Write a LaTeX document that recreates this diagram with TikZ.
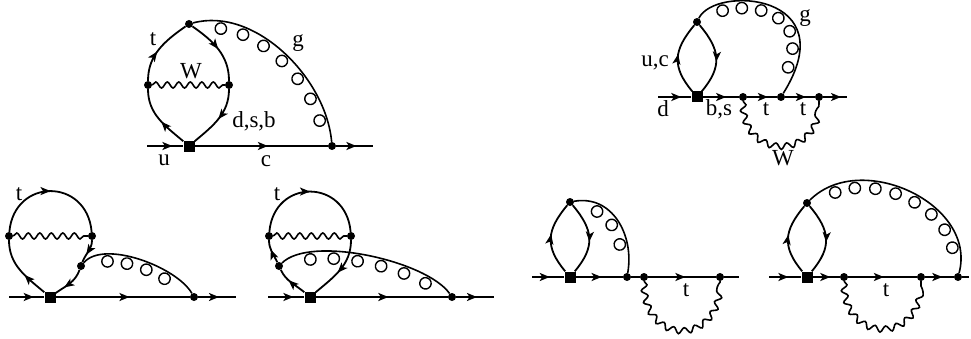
\documentclass[tikz,border=0pt]{standalone}
\usepackage{fontspec}
\setmainfont{Liberation Serif}
\usetikzlibrary{shapes,arrows.meta,decorations.markings,decorations.pathmorphing}

\begin{document}
\begin{tikzpicture}[
  x=1pt, y=1pt,
  vtx/.style={circle, fill=black, inner sep=0pt, minimum size=8pt},
  sqv/.style={rectangle, fill=black, inner sep=0pt, minimum size=11pt},
  lbl/.style={inner sep=0pt, font=\fontsize{23}{24}\selectfont},
  bare/.style={line width=2.1pt},
  fline/.style={line width=2.1pt, postaction={decorate}, decoration={markings, mark=at position #1 with {\arrow{Stealth[length=10pt,width=8pt,inset=2.5pt]}}}},
  fline/.default=0.6,
  floop/.style={fline=#1, line width=1.8pt},
  wline/.style={line width=1.6pt, decorate, decoration={snake, segment length=11.5pt, amplitude=3pt}},
  gluon/.style n args={3}{line width=1.6pt, postaction={decorate}, decoration={markings, mark=between positions #1 and #2 step #3 with {\draw[line width=1.4pt] (0,-7.5pt) circle (5.7pt);}}},
]
  \useasboundingbox (0,0) rectangle (971,338);

  \node[sqv] (sqA) at (189,192) {};
  \node[vtx] (topA) at (189,314) {};
  \node[vtx] (leftA) at (148,253) {};
  \node[vtx] (rightA) at (229,253) {};
  \node[vtx] (endA) at (332,192) {};
  \coordinate (inA) at (147,192);
  \coordinate (outA) at (373,192);
  \draw[fline=0.7] (inA) -- (sqA);
  \draw[fline=0.55] (sqA) -- (endA);
  \draw[fline=0.55] (endA) -- (outA);
  \draw[floop=0.45] (sqA) to[out=140,in=-90] (leftA);
  \draw[floop=0.45] (leftA) to[out=90,in=215] (topA);
  \draw[floop=0.5] (topA) to[out=-35,in=90] (rightA);
  \draw[floop=0.5] (rightA) to[out=-90,in=40] (sqA);
  \draw[wline] (leftA) -- (rightA);
  \draw[gluon={29pt}{-8pt}{25pt}] (topA) to[out=15,in=95,looseness=0.9] (endA);
  \node[lbl] (tA) at (153,299) {t};
  \node[lbl] (wA) at (191,267) {W};
  \node[lbl] (gA) at (298,295) {g};
  \node[lbl] (dsbA) at (254,217) {d,s,b};
  \node[lbl] (uA) at (164,178) {u};
  \node[lbl] (cA) at (266,177) {c};

  \node[sqv] (sqB) at (50,41) {};
  \node[vtx] (leftB) at (9,102) {};
  \node[vtx] (rightB) at (92,102) {};
  \node[vtx] (lowB) at (81,72) {};
  \node[vtx] (endB) at (194,41) {};
  \coordinate (inB) at (9,41);
  \coordinate (outB) at (236,41);
  \draw[fline=0.7] (inB) -- (sqB);
  \draw[fline=0.55] (sqB) -- (endB);
  \draw[fline=0.55] (endB) -- (outB);
  \draw[floop=0.4] (sqB) to[out=140,in=-90] (leftB);
  \draw[floop=0.5] (leftB) to[out=85,in=95,looseness=1.7] (rightB);
  \draw[floop=0.65] (rightB) to[out=-90,in=70] (lowB);
  \draw[floop=0.7] (lowB) to[out=-110,in=35] (sqB);
  \draw[wline] (leftB) -- (rightB);
  \draw[gluon={26pt}{-14pt}{21.5pt}] (lowB) to[out=50,in=120,looseness=0.7] (endB);
  \node[lbl] (tB) at (19,144) {t};

  \node[sqv] (sqC) at (310,41) {};
  \node[vtx] (leftC) at (269,102) {};
  \node[vtx] (rightC) at (351,102) {};
  \node[vtx] (lowC) at (279,72) {};
  \node[vtx] (endC) at (452,41) {};
  \coordinate (inC) at (268,41);
  \coordinate (outC) at (494,41);
  \draw[fline=0.7] (inC) -- (sqC);
  \draw[fline=0.55] (sqC) -- (endC);
  \draw[fline=0.55] (endC) -- (outC);
  \draw[floop=0.6] (sqC) to[out=140,in=-65] (lowC);
  \draw[floop=0.6] (lowC) to[out=115,in=-90] (leftC);
  \draw[floop=0.5] (leftC) to[out=85,in=95,looseness=1.7] (rightC);
  \draw[floop=0.55] (rightC) to[out=-90,in=40] (sqC);
  \draw[wline] (leftC) -- (rightC);
  \draw[gluon={30pt}{-14pt}{24.8pt}] (lowC) to[out=45,in=125,looseness=0.6] (endC);
  \node[lbl] (tC) at (277,144) {t};

  \node[sqv] (sqD) at (697,241) {};
  \node[vtx] (topD) at (697,316) {};
  \node[vtx] (bD) at (743,241) {};
  \node[vtx] (cD) at (781,241) {};
  \node[vtx] (dD) at (819,241) {};
  \coordinate (inD) at (658,241);
  \coordinate (outD) at (847,241);
  \draw[fline=0.7] (inD) -- (sqD);
  \draw[fline=0.65] (sqD) -- (bD);
  \draw[fline=0.7] (bD) -- (cD);
  \draw[fline=0.7] (cD) -- (dD);
  \draw[fline=0.75] (dD) -- (outD);
  \draw[floop=0.55] (sqD) to[out=130,in=-130,looseness=1.25] (topD);
  \draw[floop=0.55] (topD) to[out=-50,in=50,looseness=1.25] (sqD);
  \draw[wline] (bD) to[out=-90,in=-90,looseness=1.9] (dD);
  \draw[gluon={27pt}{-14pt}{21.5pt}] (topD) .. controls (715,353) and (846,345) .. (cD);
  \node[lbl] (ucD) at (655,275) {u,c};
  \node[lbl] (gD) at (805,320) {g};
  \node[lbl] (dlD) at (663,229) {d};
  \node[lbl] (bsD) at (719,229) {b,s};
  \node[lbl] (t1D) at (766,229) {t};
  \node[lbl] (t2D) at (803,229) {t};
  \node[lbl] (wD) at (783,180) {W};

  \node[sqv] (sqE) at (570,61) {};
  \node[vtx] (topE) at (570,136) {};
  \node[vtx] (endE) at (627,61) {};
  \node[vtx] (bE) at (644,61) {};
  \node[vtx] (dE) at (720,61) {};
  \coordinate (inE) at (532,61);
  \coordinate (outE) at (739,61);
  \draw[fline=0.55] (inE) -- (sqE);
  \draw[fline=0.55] (sqE) -- (endE);
  \draw[bare] (endE) -- (bE);
  \draw[fline=0.55] (bE) -- (dE);
  \draw[bare] (dE) -- (outE);
  \draw[floop=0.55] (sqE) to[out=130,in=-130,looseness=1.25] (topE);
  \draw[floop=0.55] (topE) to[out=-50,in=50,looseness=1.25] (sqE);
  \draw[wline] (bE) to[out=-90,in=-90,looseness=2.1] (dE);
  \draw[gluon={27pt}{-14pt}{24pt}] (topE) to[out=10,in=80,looseness=1.1] (endE);
  \node[lbl] (tE) at (686,48) {t};

  \node[sqv] (sqF) at (807,61) {};
  \node[vtx] (topF) at (807,135) {};
  \node[vtx] (bF) at (844,61) {};
  \node[vtx] (cF) at (921,61) {};
  \node[vtx] (endF) at (958,61) {};
  \coordinate (inF) at (769,61);
  \coordinate (outF) at (969,61);
  \draw[fline=0.6] (inF) -- (sqF);
  \draw[fline=0.65] (sqF) -- (bF);
  \draw[fline=0.52] (bF) -- (cF);
  \draw[fline=0.6] (cF) -- (endF);
  \draw[bare] (endF) -- (outF);
  \draw[floop=0.55] (sqF) to[out=130,in=-130,looseness=1.25] (topF);
  \draw[floop=0.55] (topF) to[out=-50,in=50,looseness=1.25] (sqF);
  \draw[wline] (bF) to[out=-90,in=-90,looseness=2.0] (cF);
  \draw[gluon={27pt}{-8pt}{22.3pt}] (topF) to[out=45,in=75,looseness=1.1] (endF);
  \node[lbl] (tF) at (886,48) {t};
\end{tikzpicture}
\end{document}
